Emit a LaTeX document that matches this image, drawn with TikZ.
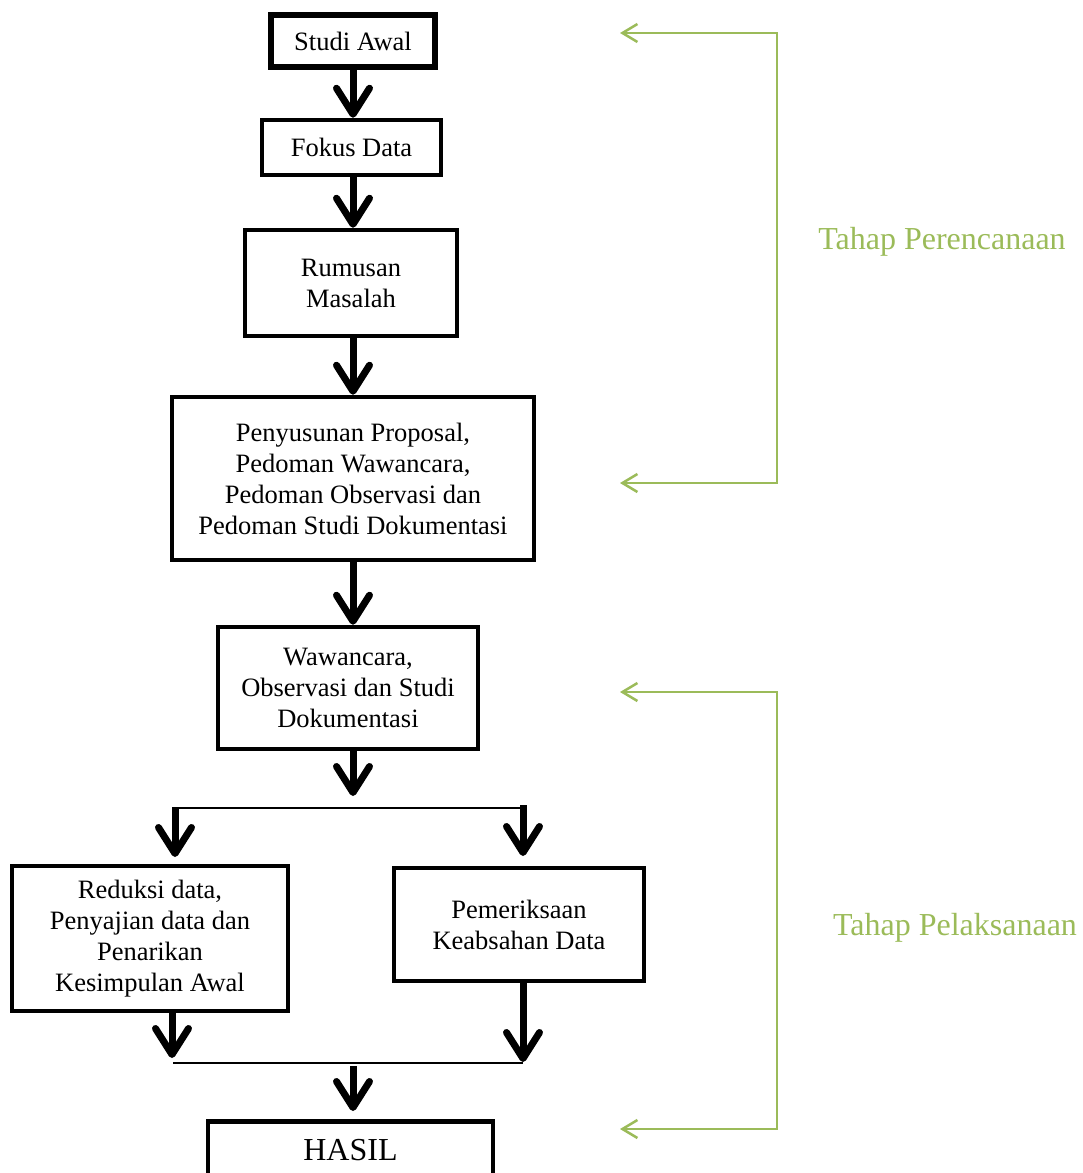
\documentclass[tikz,border=0pt]{standalone}
\usepackage{fontspec}
\setmainfont{Liberation Serif}
\usetikzlibrary{arrows.meta}
\definecolor{offgreen}{HTML}{9BBB59}
\tikzset{
  box/.style={draw=black, line width=4.5pt, align=center, inner sep=0pt,
    font=\fontsize{26.5}{31}\selectfont},
  bigarrow/.style={line width=7pt, -{Straight Barb[length=26pt,width=33pt,round]}},
  thinline/.style={line width=2pt},
  grarrow/.style={draw=offgreen, line width=2.5pt,
    {Straight Barb[length=15pt,width=18pt]}-{Straight Barb[length=15pt,width=18pt]}},
  grlabel/.style={text=offgreen, font=\fontsize{32}{38}\selectfont}
}
\begin{document}
\begin{tikzpicture}[x=1pt,y=-1pt]
\useasboundingbox (0,0) rectangle (1082,1173);
% boxes
\node[box, line width=6pt, minimum width=164pt, minimum height=52pt] (studi) at (353,41) {Studi Awal};
\node[box, minimum width=179pt, minimum height=55pt] (fokus) at (351.5,147.5) {Fokus Data};
\node[box, minimum width=212pt, minimum height=106pt] (rumusan) at (351,283) {Rumusan\\Masalah};
\node[box, minimum width=362pt, minimum height=163pt] (proposal) at (353,478.5) {Penyusunan Proposal,\\Pedoman Wawancara,\\Pedoman Observasi dan\\Pedoman Studi Dokumentasi};
\node[box, minimum width=260pt, minimum height=122pt] (wawancara) at (348,688) {Wawancara,\\Observasi dan Studi\\Dokumentasi};
\node[box, minimum width=276pt, minimum height=145pt] (reduksi) at (150,938.5) {Reduksi data,\\Penyajian data dan\\Penarikan\\Kesimpulan Awal};
\node[box, minimum width=250pt, minimum height=113pt] (periksa) at (519,924.5) {Pemeriksaan\\Keabsahan Data};
\node[box, minimum width=285pt, minimum height=146pt, anchor=north] (hasil) at (350.5,1119) {};
\node[font=\fontsize{32}{38}\selectfont] (hasiltext) at (350.5,1150) {HASIL};
% main flow arrows
\coordinate (c1) at (353,70);
\draw[bigarrow] (c1) -- (c1 |- fokus.north);
\coordinate (c2) at (353,177);
\draw[bigarrow] (c2) -- (c2 |- rumusan.north);
\coordinate (c3) at (353,338);
\draw[bigarrow] (c3) -- (c3 |- proposal.north);
\coordinate (c4) at (353,562);
\draw[bigarrow] (c4) -- (c4 |- wawancara.north);
\coordinate (c5) at (353,751);
\coordinate (jt) at (353,796);
\draw[bigarrow] (c5) -- (jt);
% branch
\coordinate (bl) at (175,808);
\coordinate (br) at (523,808);
\coordinate (blt) at (175,857);
\coordinate (brt) at (523,856);
\draw[thinline] (bl) -- (br);
\draw[bigarrow] ([yshift=1pt]bl) -- (blt);
\draw[bigarrow] ([yshift=3pt]br) -- (brt);
% merge
\coordinate (ls) at (172,1013);
\coordinate (lt) at (172,1058);
\coordinate (rs) at (523,983);
\coordinate (rt) at (523,1062);
\draw[bigarrow] (ls) -- (lt);
\draw[bigarrow] (rs) -- (rt);
\coordinate (ml) at (173,1063);
\coordinate (mr) at (523,1063);
\draw[thinline] (ml) -- (mr);
\coordinate (ms) at (353,1066);
\coordinate (mt) at (353,1111);
\draw[bigarrow] (ms) -- (mt);
% green brackets
\coordinate (g1a) at (620,33);
\coordinate (g1b) at (777,33);
\coordinate (g1c) at (777,483);
\coordinate (g1d) at (620,483);
\draw[grarrow] (g1a) -- (g1b) -- (g1c) -- (g1d);
\coordinate (g2a) at (620,692);
\coordinate (g2b) at (777,692);
\coordinate (g2c) at (777,1129);
\coordinate (g2d) at (620,1129);
\draw[grarrow] (g2a) -- (g2b) -- (g2c) -- (g2d);
\node[grlabel] (plan) at (942,242) {Tahap Perencanaan};
\node[grlabel] (exec) at (955,928) {Tahap Pelaksanaan};
\end{tikzpicture}
\end{document}
